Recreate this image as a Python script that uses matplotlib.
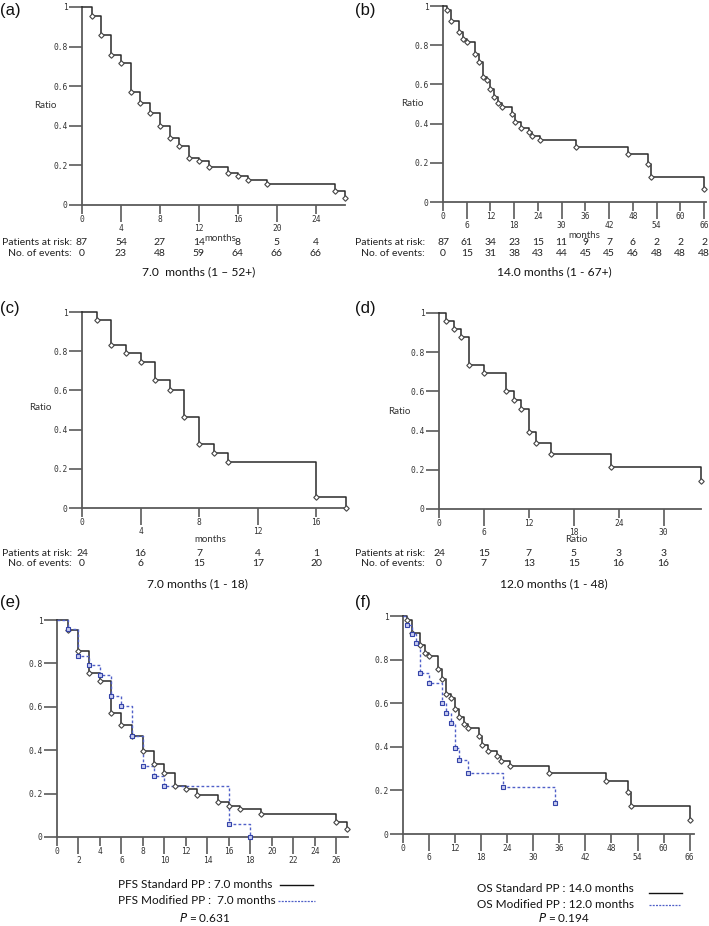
import matplotlib
matplotlib.use("Agg")
import matplotlib.pyplot as plt
import matplotlib.transforms as mtransforms
from matplotlib.lines import Line2D

# ---------------- data ----------------
# (a) PFS standard
a_times = [1, 2, 3, 4, 5, 6, 7, 8, 9, 10, 11, 12, 13, 15, 16, 17, 19, 26, 27]
a_surv = [0.955, 0.857, 0.756, 0.719, 0.572, 0.517, 0.465, 0.397, 0.337, 0.296,
          0.237, 0.222, 0.192, 0.162, 0.145, 0.128, 0.106, 0.071, 0.035]
# (b) OS standard
b_times = [1, 2, 4, 5, 6, 8, 9, 10, 11, 12, 13, 14, 15, 17.5, 18.3, 19.6, 21.7,
           22.5, 24.6, 33.6, 46.7, 51.8, 52.6, 66]
b_surv = [0.982, 0.922, 0.869, 0.830, 0.817, 0.757, 0.712, 0.640, 0.622, 0.575,
          0.538, 0.504, 0.487, 0.450, 0.410, 0.380, 0.358, 0.336, 0.314, 0.281,
          0.244, 0.194, 0.130, 0.066]
# (c) PFS modified
c_times = [1, 2, 3, 4, 5, 6, 7, 8, 9, 10, 16, 18]
c_surv = [0.958, 0.833, 0.792, 0.745, 0.651, 0.604, 0.464, 0.325, 0.279, 0.233,
          0.058, 0.0]
# (d) OS modified
d_times = [1, 2, 3, 4, 6, 9, 10, 11, 12, 13, 15, 23, 35]
d_surv = [0.958, 0.917, 0.875, 0.737, 0.692, 0.600, 0.554, 0.508, 0.394, 0.338,
          0.282, 0.214, 0.144]

# risk tables
a_risk_t = [0, 4, 8, 12, 16, 20, 24]
a_at_risk = [87, 54, 27, 14, 8, 5, 4]
a_events = [0, 23, 48, 59, 64, 66, 66]
b_risk_t = [0, 6, 12, 18, 24, 30, 36, 42, 48, 54, 60, 66]
b_at_risk = [87, 61, 34, 23, 15, 11, 9, 7, 6, 2, 2, 2]
b_events = [0, 15, 31, 38, 43, 44, 45, 45, 46, 48, 48, 48]
c_risk_t = [0, 4, 8, 12, 16]
c_at_risk = [24, 16, 7, 4, 1]
c_events = [0, 6, 15, 17, 20]
d_risk_t = [0, 6, 12, 18, 24, 30]
d_at_risk = [24, 15, 7, 5, 3, 3]
d_events = [0, 7, 13, 15, 16, 16]

y_ticks = [0, 0.2, 0.4, 0.6, 0.8, 1]
y_ticklabels = ["0", "0.2", "0.4", "0.6", "0.8", "1"]

subtitles = ["7.0  months (1 \u2013 52+)", "14.0 months (1 - 67+)",
             "7.0 months (1 - 18)", "12.0 months (1 - 48)"]
legend_e = ["PFS Standard PP : 7.0 months", "PFS Modified PP :  7.0 months"]
legend_f = ["OS Standard PP : 14.0 months", "OS Modified PP : 12.0 months"]
p_e = "0.631"
p_f = "0.194"

# ---------------- style ----------------
W, H = 709, 926
fig = plt.figure(figsize=(W / 100, H / 100), dpi=100)
renderer = fig.canvas.get_renderer()
TXT = ["Lato", "DejaVu Sans"]
MONO = "DejaVu Sans Mono"
AX_COL = "#5a5a5a"
LINE_COL = "#2a2a2a"
MOD_COL = "#5060c8"


def fx(x):
    return x / W


def fy(y):
    return 1 - y / H


def fit_size(s, target_px, family=TXT, start=8.0):
    """font size that makes string s about target_px wide"""
    fs = start
    for _ in range(3):
        t = fig.text(0, 0, s, fontsize=fs, family=family)
        w = t.get_window_extent(renderer).width
        t.remove()
        fs = fs * target_px / w
    return fs


RISK_FS = fit_size("Patients at risk:", 71)
SUB_FS = fit_size("7.0 months (1 - 18)", 101)
LEG_FS = fit_size("PFS Standard PP : 7.0 months", 155)
SMALL_FS = fit_size("months", 32)


def make_ax(left, right, top, bottom, xmax, major, minor):
    ax = fig.add_axes([fx(left), fy(bottom), fx(right - left), (bottom - top) / H])
    ax.set_xlim(0, xmax)
    ax.set_ylim(0, 1)
    for s in ["top", "right"]:
        ax.spines[s].set_visible(False)
    for s in ["left", "bottom"]:
        ax.spines[s].set_color(AX_COL)
        ax.spines[s].set_linewidth(1.3)
    ax.set_yticks(y_ticks, y_ticklabels)
    ax.set_xticks(major, [str(v) for v in major])
    ax.set_xticks(minor, [str(v) for v in minor], minor=True)
    ax.tick_params(axis="y", length=9.5, width=1.2, color=AX_COL, pad=1,
                   labelsize=5.7, labelcolor="#333")
    ax.tick_params(axis="x", which="major", length=6.3, width=1.2, color=AX_COL,
                   pad=1.2, labelsize=5.7, labelcolor="#333")
    ax.tick_params(axis="x", which="minor", length=12.3, width=1.2, color=AX_COL,
                   pad=1.2, labelsize=5.7, labelcolor="#333")
    for lab in ax.get_xticklabels(which="both") + ax.get_yticklabels():
        lab.set_fontfamily(MONO)
    ax.patch.set_visible(False)
    return ax


def km(ax, times, surv, color=LINE_COL, ls="-", marker="D", ms=2.8,
       mfc="white", mec="#444", lw=1.1):
    t = [0] + list(times)
    s = [1] + list(surv)
    ax.step(t, s, where="post", color=color, lw=lw, ls=ls, clip_on=False,
            zorder=3)
    ax.plot(times, surv, ls="none", marker=marker, ms=ms, mfc=mfc, mec=mec,
            mew=0.8, clip_on=False, zorder=4)


def km_mod(ax, times, surv):
    km(ax, times, surv, color=MOD_COL, ls=(0, (2.0, 1.6)), marker="s", ms=3.4,
       mfc="#c9cdf0", mec="#3443a8", lw=1.0)


def risk_table(ax, tvals, at_risk, events, y1, y2, label_right):
    tr = mtransforms.blended_transform_factory(ax.transData, fig.transFigure)
    for t, r, e in zip(tvals, at_risk, events):
        ax.text(t, fy(y1), str(r), transform=tr, ha="center", va="center",
                fontsize=RISK_FS, family=TXT, color="#222", clip_on=False)
        ax.text(t, fy(y2), str(e), transform=tr, ha="center", va="center",
                fontsize=RISK_FS, family=TXT, color="#222", clip_on=False)
    fig.text(fx(label_right), fy(y1), "Patients at risk:", ha="right",
             va="center", fontsize=RISK_FS, family=TXT, color="#222")
    fig.text(fx(label_right), fy(y2), "No. of events:", ha="right",
             va="center", fontsize=RISK_FS, family=TXT, color="#222")


def small_label(x, y, s):
    fig.text(fx(x), fy(y), s, ha="center", va="center", fontsize=SMALL_FS,
             family=TXT, color="#333")


def panel_label(x, y, s):
    fig.text(fx(x), fy(y), s, ha="left", va="center", fontsize=12,
             family="Liberation Sans", color="#111")


def subtitle(x, y, s):
    fig.text(fx(x), fy(y), s, ha="center", va="center", fontsize=SUB_FS,
             family=TXT, color="#111")


def legend_text(x, y, s, ha="left"):
    fig.text(fx(x), fy(y), s, ha=ha, va="center", fontsize=LEG_FS,
             family=TXT, color="#111")


# ---------------- panel (a) ----------------
axa = make_ax(82, 345, 7, 205, 27, [0, 8, 16, 24], [4, 12, 20])
km(axa, a_times, a_surv)
small_label(45, 105, "Ratio")
small_label(220, 238, "months")
risk_table(axa, a_risk_t, a_at_risk, a_events, 243, 253, 72)
subtitle(199, 272, subtitles[0])
panel_label(0, 10, "(a)")

# ---------------- panel (b) ----------------
axb = make_ax(443, 706, 6, 202, 66.5, [0, 12, 24, 36, 48, 60],
              [6, 18, 30, 42, 54, 66])
km(axb, b_times, b_surv)
small_label(412, 103, "Ratio")
small_label(584, 235, "months")
risk_table(axb, b_risk_t, b_at_risk, b_events, 243, 253, 425)
subtitle(554, 272, subtitles[1])
panel_label(355, 10, "(b)")

# ---------------- panel (c) ----------------
axc = make_ax(82, 347, 312, 508, 18.1, [0, 8, 16], [4, 12])
km(axc, c_times, c_surv)
small_label(40, 407, "Ratio")
small_label(210, 540, "months")
risk_table(axc, c_risk_t, c_at_risk, c_events, 553, 564, 72)
subtitle(197, 584, subtitles[2])
panel_label(0, 309, "(c)")

# ---------------- panel (d) ----------------
axd = make_ax(439, 701, 313, 509, 35, [0, 12, 24], [6, 18, 30])
km(axd, d_times, d_surv)
small_label(399, 411, "Ratio")
small_label(576, 540, "Ratio")
risk_table(axd, d_risk_t, d_at_risk, d_events, 553, 564, 425)
subtitle(554, 584, subtitles[3])
panel_label(355, 308, "(d)")

# ---------------- panel (e) ----------------
axe = make_ax(57, 348, 620, 837, 27.1, [0, 4, 8, 12, 16, 20, 24],
              [2, 6, 10, 14, 18, 22, 26])
km(axe, a_times, a_surv)
km_mod(axe, c_times, c_surv)
panel_label(0, 603, "(e)")
legend_text(118, 885, legend_e[0])
legend_text(118, 901, legend_e[1])
legend_text(205, 918, "$P$ = " + p_e, ha="center")
fig.add_artist(Line2D([fx(280), fx(313)], [fy(885), fy(885)], color="#111",
                      lw=1.0, transform=fig.transFigure))
fig.add_artist(Line2D([fx(278), fx(315)], [fy(901), fy(901)], color=MOD_COL,
                      lw=0.9, ls=(0, (1.6, 1.0)), transform=fig.transFigure))

# ---------------- panel (f) ----------------
axf = make_ax(403, 694, 616, 834, 67, [0, 12, 24, 36, 48, 60],
              [6, 18, 30, 42, 54, 66])
km(axf, b_times, b_surv)
km_mod(axf, d_times, d_surv)
panel_label(355, 603, "(f)")
legend_text(477, 889, legend_f[0])
legend_text(477, 904, legend_f[1])
legend_text(564, 918, "$P$ = " + p_f, ha="center")
fig.add_artist(Line2D([fx(649), fx(682)], [fy(893), fy(893)], color="#111",
                      lw=1.0, transform=fig.transFigure))
fig.add_artist(Line2D([fx(649), fx(680)], [fy(905), fy(905)], color=MOD_COL,
                      lw=0.9, ls=(0, (1.6, 1.0)), transform=fig.transFigure))

fig.savefig("out.png", dpi=100)
